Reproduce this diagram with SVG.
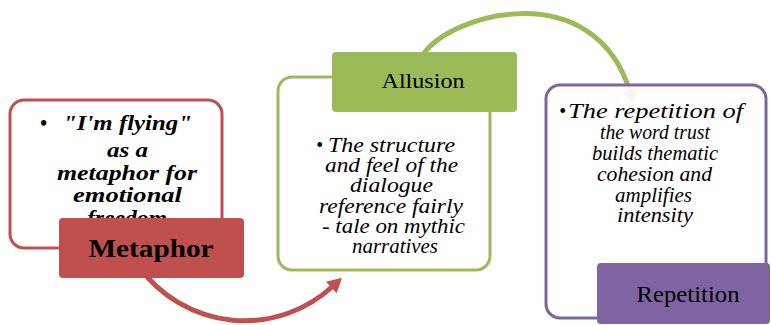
<svg xmlns="http://www.w3.org/2000/svg" width="771" height="325" viewBox="0 0 771 325" font-family="'Liberation Serif', 'Times New Roman', serif">
<style>
.outer{fill:#FFFFFF;fill-opacity:0.9;stroke-width:3}
.body{font-size:20px;fill:#000}
.bi{font-weight:bold;font-style:italic}
.it{font-style:italic}
.lbl{fill:#000;text-anchor:middle}
.conn{fill:none;stroke-width:5}
</style>
<defs>
<marker id="arrRed" markerUnits="userSpaceOnUse" markerWidth="20" markerHeight="20" viewBox="-2 -9 16 18" refX="2" refY="0" orient="auto">
<path d="M0,-7 L13,0 L0,7 Z" fill="#C0504D"/>
</marker>
<marker id="arrGreen" markerUnits="userSpaceOnUse" markerWidth="20" markerHeight="20" viewBox="-2 -9 16 18" refX="2" refY="0" orient="auto">
<path d="M0,-7 L13,0 L0,7 Z" fill="#9BBB59"/>
</marker>
</defs>
<rect width="771" height="325" fill="#FFFFFF"/>

<g id="connectors">
<path class="conn" stroke="#C0504D" d="M140 268 A130 130 0 0 0 333 286" marker-end="url(#arrRed)"/>
<path class="conn" stroke="#9BBB59" d="M422 56 C450 12 595 -25 630 92" marker-end="url(#arrGreen)"/>
</g>

<g id="metaphor">
<rect class="outer" x="10" y="100" width="212" height="148" rx="14" stroke="#C0504D"/>
<g class="body bi">
<text x="40" y="130">•</text>
<text x="63" y="130" textLength="129" lengthAdjust="spacingAndGlyphs">"I'm flying"</text>
<text x="107" y="157" textLength="41" lengthAdjust="spacingAndGlyphs">as a</text>
<text x="57" y="180" textLength="140" lengthAdjust="spacingAndGlyphs">metaphor for</text>
<text x="73" y="202" textLength="109" lengthAdjust="spacingAndGlyphs">emotional</text>
<text x="87" y="225" textLength="80" lengthAdjust="spacingAndGlyphs">freedom</text>
</g>
<rect x="59" y="218" width="185" height="60" rx="4" fill="#C0504D"/>
<text class="lbl" x="151" y="257" font-size="26" font-weight="bold" textLength="125" lengthAdjust="spacingAndGlyphs">Metaphor</text>
</g>

<g id="allusion">
<rect class="outer" x="278" y="77" width="212" height="193" rx="14" stroke="#9BBB59"/>
<g class="body it">
<text x="316" y="152">•</text>
<text x="328" y="152" textLength="127" lengthAdjust="spacingAndGlyphs">The structure</text>
<text x="325" y="172" textLength="133" lengthAdjust="spacingAndGlyphs">and feel of the</text>
<text x="350" y="192" textLength="83" lengthAdjust="spacingAndGlyphs">dialogue</text>
<text x="319" y="213" textLength="144" lengthAdjust="spacingAndGlyphs">reference fairly</text>
<text x="322" y="233" textLength="143" lengthAdjust="spacingAndGlyphs">- tale on mythic</text>
<text x="352" y="253" textLength="86" lengthAdjust="spacingAndGlyphs">narratives</text>
</g>
<rect x="332" y="52" width="185" height="60" rx="4" fill="#9BBB59"/>
<text class="lbl" x="423" y="88" font-size="21" textLength="83" lengthAdjust="spacingAndGlyphs">Allusion</text>
</g>

<g id="repetition">
<rect class="outer" x="546" y="85" width="220" height="233" rx="14" stroke="#8064A2"/>
<g class="body it">
<text x="559" y="118">•</text>
<text x="568" y="118" textLength="175" lengthAdjust="spacingAndGlyphs">The repetition of</text>
<text x="600" y="139" textLength="110" lengthAdjust="spacingAndGlyphs">the word trust</text>
<text x="592" y="160" textLength="126" lengthAdjust="spacingAndGlyphs">builds thematic</text>
<text x="597" y="181" textLength="115" lengthAdjust="spacingAndGlyphs">cohesion and</text>
<text x="615" y="202" textLength="77" lengthAdjust="spacingAndGlyphs">amplifies</text>
<text x="617" y="222" textLength="76" lengthAdjust="spacingAndGlyphs">intensity</text>
</g>
<rect x="597" y="263" width="173" height="61" rx="4" fill="#8064A2"/>
<text class="lbl" x="688" y="302" font-size="23" textLength="103" lengthAdjust="spacingAndGlyphs">Repetition</text>
</g>
</svg>
